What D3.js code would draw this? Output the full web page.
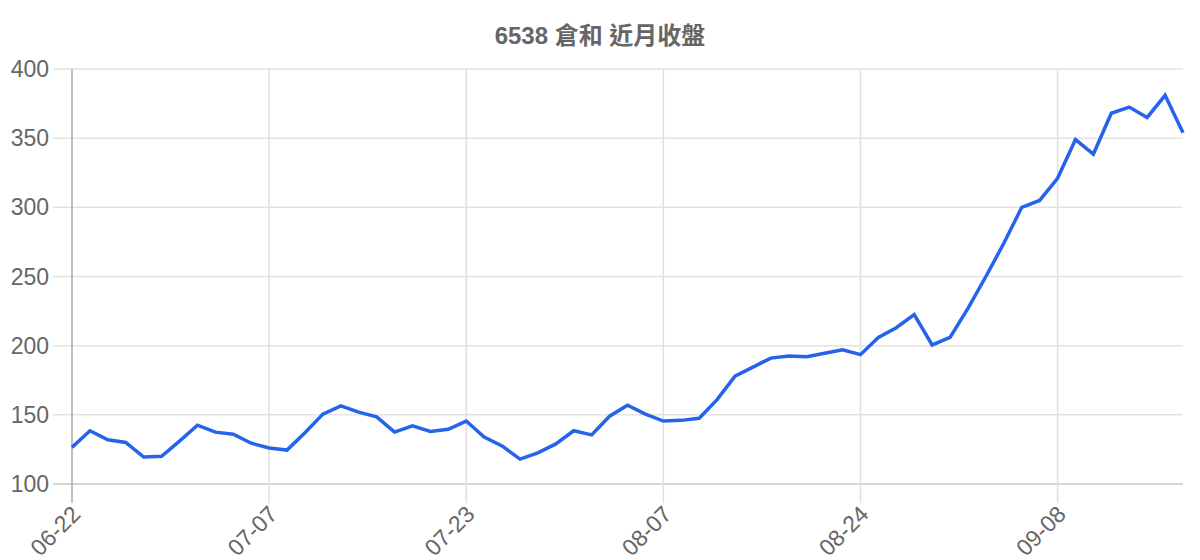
<!DOCTYPE html>
<html>
<head>
<meta charset="utf-8">
<script src="https://cdn.jsdelivr.net/npm/d3@7"></script>
<style>
  body { margin: 0; background: #fff; }
  svg text { font-family: "Liberation Sans", Arial, "Noto Sans CJK TC", sans-serif; fill: #666; }
</style>
</head>
<body>
<svg id="chart" width="1200" height="560"></svg>
<script>
// dates (only every 11th label is shown)
const dates = [
  "06-22","06-23","06-24","06-25","06-28","06-29","06-30","07-01","07-02","07-05","07-06",
  "07-07","07-08","07-09","07-12","07-13","07-14","07-15","07-16","07-19","07-20","07-21",
  "07-23","07-26","07-27","07-28","07-29","07-30","08-02","08-03","08-04","08-05","08-06",
  "08-07","08-09","08-10","08-11","08-12","08-13","08-16","08-17","08-18","08-19","08-20",
  "08-24","08-25","08-26","08-27","08-30","08-31","09-01","09-02","09-03","09-06","09-07",
  "09-08","09-09","09-10","09-13","09-14","09-15","09-16","09-17"
];
// closing prices
const closes = [
  126.5, 138.5, 132, 130, 119.5, 120, 131, 142.5, 137.5, 136, 129.5,
  126, 124.5, 137, 150.5, 156.5, 152, 148.5, 137.5, 142, 138, 139.5,
  145.5, 134, 127.5, 118, 122.5, 129, 138.5, 135.5, 149, 157, 150.5,
  145.5, 146, 147.5, 161, 178, 184.5, 191, 192.5, 192, 194.5, 197,
  193.5, 206, 213, 222.5, 200.5, 206, 227, 250, 274, 300, 305,
  321, 349, 338.5, 368, 372.5, 365, 381, 354
];
const yTicks = [100, 150, 200, 250, 300, 350, 400];
const title = "6538 倉和 近月收盤";

const svg = d3.select("#chart");
const mLeft = 72, mRight = 1183, mTop = 69, mBottom = 484, tick = 19;

const x = d3.scalePoint().domain(d3.range(dates.length)).range([mLeft, mRight]);
const y = d3.scaleLinear().domain([100, 400]).range([mBottom, mTop]);
const shown = d3.range(0, dates.length, 11);

// horizontal grid
svg.append("g")
  .selectAll("line")
  .data(yTicks)
  .join("line")
  .attr("x1", mLeft - tick).attr("x2", mRight)
  .attr("y1", d => y(d)).attr("y2", d => y(d))
  .attr("stroke", d => d === 100 ? "#c8c8c8" : "#e3e3e3")
  .attr("stroke-width", 1.5);

// vertical grid
svg.append("g")
  .selectAll("line")
  .data(shown)
  .join("line")
  .attr("x1", d => x(d)).attr("x2", d => x(d))
  .attr("y1", mTop).attr("y2", mBottom + tick)
  .attr("stroke", d => d === 0 ? "#aaa" : "#e0e0e0")
  .attr("stroke-width", 1.5);

// y labels
svg.append("g")
  .selectAll("text")
  .data(yTicks)
  .join("text")
  .attr("x", mLeft - tick - 4)
  .attr("y", d => y(d))
  .attr("dy", "0.35em")
  .attr("text-anchor", "end")
  .attr("font-size", 23)
  .text(d => d);

// x labels, rotated
svg.append("g")
  .selectAll("text")
  .data(shown)
  .join("text")
  .attr("transform", d => `translate(${x(d) + 4},${mBottom + 26}) rotate(-45)`)
  .attr("text-anchor", "end")
  .attr("dy", "0.35em")
  .attr("font-size", 23)
  .text(d => dates[d]);

// line
const line = d3.line()
  .x((d, i) => x(i))
  .y(d => y(d));

svg.append("path")
  .datum(closes)
  .attr("d", line)
  .attr("fill", "none")
  .attr("stroke", "#2563eb")
  .attr("stroke-width", 3.5)
  .attr("stroke-linejoin", "miter");

// title
svg.append("text")
  .attr("x", 600)
  .attr("y", 44)
  .attr("text-anchor", "middle")
  .attr("font-size", 24)
  .attr("font-weight", "bold")
  .text(title);
</script>
</body>
</html>
